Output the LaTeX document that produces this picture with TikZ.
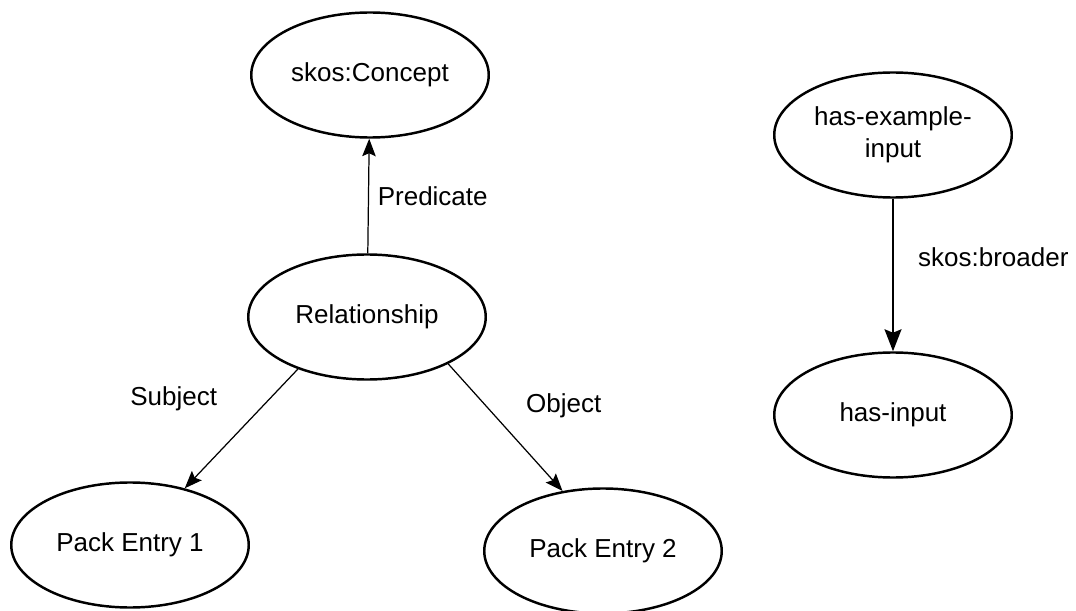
\documentclass[tikz,border=0pt]{standalone}
\usepackage{fontspec}
\setmainfont{Liberation Sans}
\usepackage{tikz}
\usetikzlibrary{arrows.meta,shapes.geometric,positioning}
\tikzstyle{link} = [-{Stealth[length=0.35cm,width=0.27cm,inset=0.06cm]},line width=0.7pt]
\tikzstyle{ent} = [draw,ellipse,line width=1.4pt,inner sep=0pt,minimum width=4.75cm,minimum height=2.5cm,align=center]

\begin{document}
\begin{tikzpicture}
        \fontsize{14.8}{18}\selectfont
        \useasboundingbox (0,0) rectangle (21.52,12.2);
        \node[ent] at (7.40,10.70) (concept) {skos:Concept};
        \node[ent] at (7.34,5.86) (rel) {Relationship};
        \node[ent] at (2.60,1.30) (pe1) {Pack Entry 1};
        \node[ent] at (12.06,1.18) (pe2) {Pack Entry 2};
        \node[ent] at (17.86,9.50) (hei) {has-example-\\input};
        \node[ent] at (17.86,3.90) (hi) {has-input};

        \draw[link] (rel) -- (concept) node[midway,right]{Predicate};
        \draw[link] (rel.217.5) -- (pe1.46) node[midway,anchor=south east,xshift=-0.3cm,yshift=0.18cm]{Subject};
        \draw[link] (rel.330.4) -- (pe2.124.8) node[midway,above right,xshift=0.23cm]{Object};
        \draw[link, line width=1.1pt, -{Stealth[length=0.44cm,width=0.34cm,inset=0.07cm]}] (hei) -- (hi) node[midway,right,xshift=0.31cm,yshift=0.35cm]{skos:broader};
    \end{tikzpicture}
\end{document}
